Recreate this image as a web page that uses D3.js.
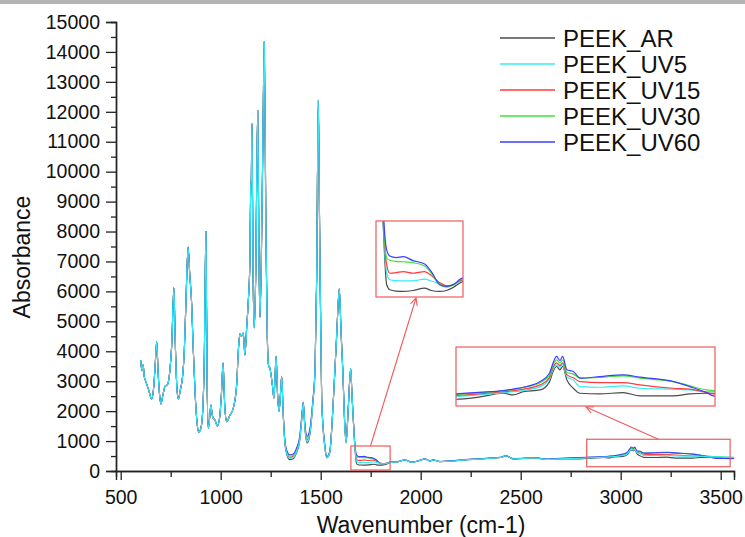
<!DOCTYPE html>
<html>
<head>
<meta charset="utf-8">
<script src="https://cdnjs.cloudflare.com/ajax/libs/d3/7.8.5/d3.min.js"></script>
<style>
body { margin: 0; background: #fff; }
svg { display: block; font-family: "Liberation Sans", Arial, sans-serif; }
</style>
</head>
<body>
<div id="chart"></div>
<script>
// FTIR spectra of PEEK, as-received and after UV exposure

var seriesNames = ["PEEK_AR", "PEEK_UV5", "PEEK_UV15", "PEEK_UV30", "PEEK_UV60"];
var seriesColors = ["#4a4a4a", "#35ecf5", "#ff3b3b", "#3be63b", "#3d3dff"];

var xTicks = [500, 1000, 1500, 2000, 2500, 3000, 3500];
var yTicks = [0, 1000, 2000, 3000, 4000, 5000, 6000, 7000, 8000, 9000, 10000, 11000, 12000, 13000, 14000, 15000];

// fingerprint region, all five spectra lie on top of each other here
var fpWave = [600, 606, 612, 618, 625, 640, 655, 665, 673, 680,
    687, 695, 701, 710, 721, 735, 745, 755, 766, 772,
    780, 788, 798, 810, 818, 826, 837, 845, 855, 862,
    872, 882, 890, 900, 910, 918, 926, 932, 938, 945,
    951, 957, 963, 971, 983, 995, 1003, 1012, 1020, 1030,
    1045, 1063, 1080, 1088, 1096, 1104, 1113, 1121, 1130, 1138,
    1146, 1150, 1153, 1156, 1162, 1168, 1175, 1185, 1191, 1196,
    1203, 1210, 1218, 1226, 1233, 1240, 1246, 1251, 1258, 1266,
    1272, 1277, 1284, 1292, 1299, 1305, 1312];
var fpAbs = [3700, 3350, 3550, 3150, 3000, 2700, 2405, 2800, 3600, 4320,
    3300, 2500, 2240, 2500, 2820, 2900, 3300, 4200, 6120, 4500,
    2900, 2405, 2700, 3200, 4000, 5600, 7480, 6600, 5550, 4200,
    2600, 1600, 1300, 1400, 2000, 3800, 8000, 3000, 1427, 1800,
    2205, 1900, 1760, 1704, 1503, 1800, 2500, 3610, 2200, 1648,
    1850, 2100, 2900, 4000, 4580, 4500, 4610, 3876, 4800, 5670,
    7000, 9500, 9700, 11590, 6500, 4780, 6500, 12030, 7500, 5135,
    7000, 10500, 14350, 8000, 4500, 3500, 3440, 3240, 2900, 2440,
    3200, 3830, 2600, 1995, 2600, 3160, 2000];

// rest of the spectrum, where the exposures separate
var hiWave = [1320, 1330, 1345, 1360, 1380, 1395, 1405, 1413, 1420, 1432,
    1447, 1460, 1472, 1480, 1488, 1494, 1505, 1521, 1530, 1545,
    1563, 1580, 1593, 1602, 1610, 1621, 1627, 1638, 1650, 1656,
    1663, 1671, 1679, 1686, 1700, 1716, 1738, 1764, 1779, 1798,
    1813, 1828, 1849, 1880, 1921, 1955, 1990, 2021, 2046, 2063,
    2096, 2150, 2220, 2296, 2346, 2400, 2426, 2463, 2520, 2563,
    2630, 2700, 2790, 2850, 2914, 2940, 2967, 3011, 3035, 3045,
    3054, 3063, 3070, 3081, 3098, 3116, 3168, 3229, 3273, 3361,
    3404, 3448, 3466, 3520, 3567];

var arHi = [1000, 560, 380, 400, 620, 1000, 1700, 2270, 1500, 935,
    1250, 2200, 3440, 6500, 12400, 8500, 2330, 770, 435, 600,
    2330, 4555, 6090, 4600, 3440, 1437, 935, 2105, 3420, 2600,
    1700, 770, 253, 211, 200, 197, 205, 225, 205, 197,
    205, 230, 280, 300, 367, 290, 340, 400, 334, 367,
    311, 330, 370, 400, 423, 450, 505, 400, 420, 440,
    385, 400, 400, 420, 456, 440, 471, 487, 560, 660,
    706, 675, 706, 581, 503, 456, 450, 462, 431, 431,
    450, 456, 456, 450, 445];

var uv5Hi = [1020, 600, 420, 440, 660, 1030, 1720, 2275, 1540, 990,
    1300, 2220, 3450, 6500, 12390, 8500, 2350, 790, 445, 610,
    2332, 4555, 6090, 4600, 3440, 1450, 950, 2110, 3420, 2600,
    1710, 800, 350, 295, 288, 286, 286, 300, 285, 261,
    239, 250, 289, 301, 367, 291, 341, 401, 335, 368,
    312, 332, 372, 402, 425, 452, 507, 402, 422, 442,
    388, 405, 425, 440, 462, 470, 481, 518, 585, 680,
    722, 700, 722, 610, 580, 518, 512, 525, 503, 494,
    487, 471, 471, 462, 455];

var uv15Hi = [1040, 620, 460, 480, 700, 1060, 1750, 2280, 1570, 1040,
    1350, 2250, 3460, 6500, 12380, 8500, 2360, 800, 455, 620,
    2335, 4555, 6090, 4600, 3440, 1460, 960, 2120, 3420, 2600,
    1720, 820, 420, 350, 355, 364, 350, 364, 330, 270,
    244, 255, 295, 302, 368, 292, 342, 402, 336, 369,
    313, 333, 373, 403, 426, 453, 508, 403, 423, 443,
    390, 410, 435, 450, 470, 480, 494, 534, 600, 700,
    740, 715, 740, 630, 600, 565, 556, 556, 534, 503,
    494, 462, 450, 445, 440];

var uv30Hi = [1070, 660, 500, 520, 740, 1100, 1780, 2290, 1600, 1100,
    1400, 2280, 3480, 6500, 12350, 8500, 2380, 830, 470, 640,
    2340, 4555, 6090, 4600, 3440, 1480, 980, 2140, 3420, 2600,
    1730, 850, 476, 460, 450, 447, 439, 411, 350, 253,
    234, 250, 300, 305, 368, 293, 343, 403, 337, 370,
    315, 335, 375, 405, 428, 456, 510, 406, 426, 446,
    395, 418, 445, 460, 478, 490, 512, 555, 620, 720,
    768, 740, 768, 650, 635, 597, 603, 618, 597, 565,
    525, 487, 481, 470, 455];

var uv60Hi = [1100, 700, 545, 560, 780, 1150, 1800, 2300, 1650, 1160,
    1450, 2300, 3500, 6500, 12300, 8500, 2400, 850, 480, 650,
    2350, 4555, 6090, 4600, 3440, 1500, 1000, 2150, 3420, 2600,
    1750, 900, 545, 495, 482, 490, 456, 428, 364, 253,
    239, 253, 309, 310, 370, 295, 345, 405, 340, 372,
    318, 340, 380, 410, 433, 462, 515, 412, 432, 452,
    400, 425, 450, 465, 481, 495, 512, 565, 640, 740,
    800, 762, 800, 675, 659, 597, 612, 628, 606, 565,
    518, 462, 431, 420, 410];

var hiValues = [arHi, uv5Hi, uv15Hi, uv30Hi, uv60Hi];

// zoomed regions: [wavenumber range], [absorbance range]
var zoomA = { box: [[1651, 1847], [33, 835]], view: [[1655, 1850], [150, 790]] };
var zoomB = { box: [[2830, 3547], [143, 1060]], view: [[2790, 3470], [337, 888]] };

var width = 745, height = 537;

var svg = d3.select("#chart").append("svg")
    .attr("width", width)
    .attr("height", height);

// grey strip across the top of the screenshot
svg.append("rect")
    .attr("x", 0).attr("y", 0)
    .attr("width", width).attr("height", 4)
    .attr("fill", "#b4b4b4");

var x = d3.scaleLinear().domain([476.5, 3566.5]).range([116, 734]);
var y = d3.scaleLinear().domain([0, 15000]).range([471, 22]);

function buildPoints(hi) {
    var pts = fpWave.map(function(w, i) { return [w, fpAbs[i]]; });
    return pts.concat(hiWave.map(function(w, i) { return [w, hi[i]]; }));
}
var series = seriesNames.map(function(name, i) {
    return { name: name, color: seriesColors[i], points: buildPoints(hiValues[i]) };
});
var drawOrder = [0, 2, 3, 4, 1];

// axes
var xAxis = d3.axisBottom(x).tickValues(xTicks).tickSize(9).tickPadding(6).tickFormat(d3.format("d"));
var yAxis = d3.axisLeft(y).tickValues(yTicks).tickSize(10).tickPadding(6).tickFormat(d3.format("d"));

var gx = svg.append("g").attr("transform", "translate(0,471)")
    .call(d3.axisBottom(x).tickValues(d3.range(750, 3500, 500)).tickSize(6).tickFormat(""));
var gx2 = svg.append("g").attr("transform", "translate(0,471)").call(xAxis);
var gy = svg.append("g").attr("transform", "translate(116,0)")
    .call(d3.axisLeft(y).tickValues(d3.range(500, 15000, 1000)).tickSize(5).tickFormat(""));
var gy2 = svg.append("g").attr("transform", "translate(116,0)").call(yAxis);

svg.selectAll(".domain").attr("stroke", "#222").attr("stroke-width", 1.4);
svg.selectAll(".tick line").attr("stroke", "#222").attr("stroke-width", 1.3);
svg.selectAll(".tick text").attr("fill", "#111").style("font-size", "19.5px");
gx2.selectAll(".tick text").attr("dy", "0.9em");

svg.append("text")
    .attr("x", 421).attr("y", 533)
    .attr("text-anchor", "middle")
    .style("font-size", "23px")
    .attr("fill", "#111")
    .text("Wavenumber (cm-1)");

svg.append("text")
    .attr("transform", "translate(30,257) rotate(-90)")
    .attr("text-anchor", "middle")
    .style("font-size", "23px")
    .attr("fill", "#111")
    .text("Absorbance");

// spectra
var line = d3.line()
    .x(function(d) { return x(d[0]); })
    .y(function(d) { return y(d[1]); })
    .curve(d3.curveMonotoneX);

drawOrder.forEach(function(i) {
    svg.append("path")
        .datum(series[i].points)
        .attr("fill", "none")
        .attr("stroke", series[i].color)
        .attr("stroke-width", 1.1)
        .attr("d", line);
});

// zoom boxes on the main plot
var boxColor = "#f25a5a";
[zoomA, zoomB].forEach(function(z) {
    svg.append("rect")
        .attr("x", x(z.box[0][0]))
        .attr("y", y(z.box[1][1]))
        .attr("width", x(z.box[0][1]) - x(z.box[0][0]))
        .attr("height", y(z.box[1][0]) - y(z.box[1][1]))
        .attr("fill", "none")
        .attr("stroke", boxColor)
        .attr("stroke-width", 1.2);
});

// inset plots
function drawInset(z, px, py, pw, ph, id) {
    var ix = d3.scaleLinear().domain(z.view[0]).range([px, px + pw]);
    var iy = d3.scaleLinear().domain(z.view[1]).range([py + ph, py]);
    svg.append("clipPath").attr("id", id)
        .append("rect").attr("x", px).attr("y", py).attr("width", pw).attr("height", ph);
    var g = svg.append("g").attr("clip-path", "url(#" + id + ")");
    var iline = d3.line()
        .x(function(d) { return ix(d[0]); })
        .y(function(d) { return iy(d[1]); })
        .curve(d3.curveMonotoneX);
    [0, 1, 2, 3, 4].forEach(function(i) {
        g.append("path")
            .datum(series[i].points)
            .attr("fill", "none")
            .attr("stroke", series[i].color)
            .attr("stroke-width", 1.2)
            .attr("d", iline);
    });
    svg.append("rect")
        .attr("x", px).attr("y", py).attr("width", pw).attr("height", ph)
        .attr("fill", "none")
        .attr("stroke", boxColor)
        .attr("stroke-width", 1.2);
}
drawInset(zoomA, 376, 221, 87, 76, "clipA");
drawInset(zoomB, 456, 347, 259, 59, "clipB");

// arrows from box to inset
function arrow(x1, y1, x2, y2) {
    svg.append("line")
        .attr("x1", x1).attr("y1", y1).attr("x2", x2).attr("y2", y2)
        .attr("stroke", boxColor).attr("stroke-width", 1.1);
    var a = Math.atan2(y2 - y1, x2 - x1), s = 8, w = 0.45;
    svg.append("path")
        .attr("d", "M" + (x2 - s * Math.cos(a - w)) + "," + (y2 - s * Math.sin(a - w)) +
            "L" + x2 + "," + y2 +
            "L" + (x2 - s * Math.cos(a + w)) + "," + (y2 - s * Math.sin(a + w)))
        .attr("fill", "none")
        .attr("stroke", boxColor).attr("stroke-width", 1.1);
}
arrow((x(zoomA.box[0][0]) + x(zoomA.box[0][1])) / 2, y(zoomA.box[1][1]), 416, 298);
arrow((x(zoomB.box[0][0]) + x(zoomB.box[0][1])) / 2, y(zoomB.box[1][1]), 586, 407);

// legend
var legend = svg.append("g").selectAll("g")
    .data(series)
    .enter().append("g")
    .attr("transform", function(d, i) { return "translate(0," + (38 + i * 26) + ")"; });

legend.append("line")
    .attr("x1", 500).attr("x2", 555)
    .attr("stroke", function(d) { return d.color; })
    .attr("stroke-width", 1.3);

legend.append("text")
    .attr("x", 563).attr("dy", "0.36em")
    .style("font-size", "24px")
    .attr("fill", "#111")
    .text(function(d) { return d.name; });
</script>
</body>
</html>
